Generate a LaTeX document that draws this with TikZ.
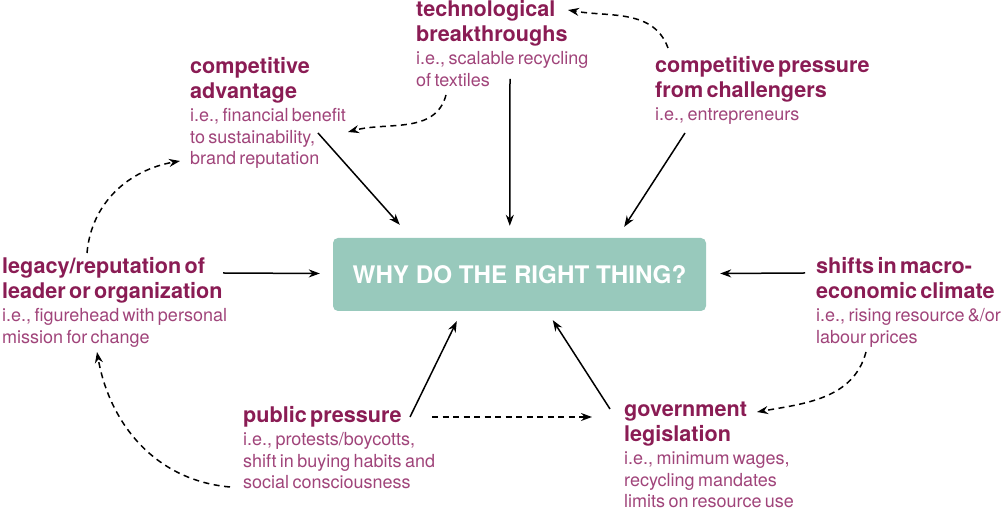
\documentclass[tikz,border=0pt]{standalone}
\usepackage{fontspec}
\setmainfont{TeX Gyre Heros}
\usepackage{tikz}
\usetikzlibrary{arrows.meta,calc}
\definecolor{titlecol}{HTML}{8A1C54}
\definecolor{desccol}{HTML}{A0447A}
\definecolor{boxcol}{HTML}{98C9BC}
\newcommand{\ttlfont}{\fontsize{21.6}{25}\selectfont\bfseries\color{titlecol}}
\newcommand{\descfont}{\fontsize{18}{21.5}\selectfont\color{desccol}}
\newcommand{\factor}[2]{{\ttlfont #1\par}\vspace{1.5pt}{\descfont #2\par}}

\begin{document}
\begin{tikzpicture}[x=1pt,y=1pt,>={Stealth[length=11pt,width=8pt]}]
	\tikzstyle{factor}=[anchor=base west, inner sep=0pt, text width=240pt, align=left]
	\tikzstyle{why}=[rectangle, rounded corners=5pt, fill=boxcol, minimum width=373pt, minimum height=73pt, text=white, font=\fontsize{24.2}{28}\selectfont\bfseries]
	\tikzstyle{drive}=[->, line width=1.5pt]
	\tikzstyle{link}=[->, line width=1.5pt, dash pattern=on 6pt off 4.5pt]
	
	\useasboundingbox (0,0) rectangle (1001,510);
	
	\node[why]    (box)    at (519.5,235.5) {WHY DO THE RIGHT THING?};
	\node[factor] (tech)   at (416,493) {\factor{technological\\breakthroughs}{i.e., scalable recycling\\of textiles}};
	\node[factor] (adv)    at (190,436) {\factor{competitive\\advantage}{i.e., financial benefit\\to sustainability,\\brand reputation}};
	\node[factor] (chal)   at (655,437) {\factor{competitive pressure\\from challengers}{i.e., entrepreneurs}};
	\node[factor] (legacy) at (2,236)   {\factor{legacy/reputation of\\leader or organization}{i.e., figurehead with personal\\mission for change}};
	\node[factor] (shifts) at (816,236) {\factor{shifts in macro-\\economic climate}{i.e., rising resource \&/or\\labour prices}};
	\node[factor] (public) at (243,87)  {\factor{public pressure}{i.e., protests/boycotts,\\shift in buying habits and\\social consciousness}};
	\node[factor] (gov)    at (624,93)  {\factor{government\\legislation}{i.e., minimum wages,\\recycling mandates\\limits on resource use}};
	
	% direct drivers
	\draw[drive] ($(adv.base west)+(128,-59)$) -- ($(box.north west)+(67,13)$);
	\draw[drive] ($(tech.base west)+(94,-62)$) -- ($(box.north west)+(177,12)$);
	\draw[drive] ($(chal.base west)+(30,-60)$) -- ($(box.north east)+(-82,11)$);
	\draw[drive] ($(legacy.base west)+(221,1)$) -- ($(box.west)+(-13,1)$);
	\draw[drive] ($(shifts.base west)+(-11,1)$) -- ($(box.east)+(14,1)$);
	\draw[drive] ($(public.base west)+(167,6)$) -- ($(box.south west)+(124,-10)$);
	\draw[drive] ($(gov.base west)+(-14,8)$) -- ($(box.south west)+(220,-9)$);
	
	% knock-on effects
	\draw[link] ($(chal.base west)+(13,25)$) to[out=110,in=-10] ($(tech.base west)+(152,7)$);
	\draw[link] ($(tech.base west)+(30,-78)$) to[out=-105,in=15] ($(adv.base west)+(158,-58)$);
	\draw[link] ($(legacy.base west)+(85,21)$) to[out=85,in=190] ($(adv.base west)+(-10,-87)$);
	\draw[link] ($(public.base west)+(-13,-64)$) to[out=175,in=-80] ($(legacy.base west)+(95,-78)$);
	\draw[link] ($(public.base west)+(189,6)$) -- ($(gov.base west)+(-32,0)$);
	\draw[link] ($(shifts.base west)+(50,-78)$) to[out=-105,in=10] ($(gov.base west)+(133,5)$);
	
\end{tikzpicture}
\end{document}
